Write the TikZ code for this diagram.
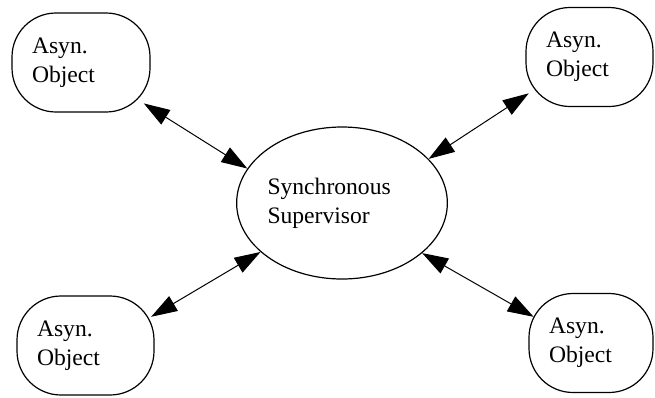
\documentclass[tikz,border=0pt]{standalone}
\usepackage{fontspec}
\setmainfont{Liberation Serif}
\usetikzlibrary{arrows.meta,shapes.geometric}

\begin{document}
\begin{tikzpicture}[x=1pt, y=-1pt, line width=1.2pt,
  font=\fontsize{23.6}{29}\selectfont,
  asyn/.style={draw, rounded corners=44pt, align=left, inner xsep=20pt,
    minimum height=99pt, text width=#1},
  super/.style={draw, ellipse, align=left, inner sep=0pt, text width=149pt,
    minimum height=152pt},
  link/.style={{Triangle[length=26pt,width=17pt]}-{Triangle[length=26pt,width=17pt]},
    line width=1pt, shorten <=#1},
  link/.default=0pt]
  \useasboundingbox (0,0) rectangle (655,397);

  \node[super] (sup) at (342,203) {Synchronous\\Supervisor};

  % the four objects
  \node[asyn=98pt] (tl) at (81,62.5) {Asyn.\\Object};
  \node[asyn=87pt] (tr) at (589.5,57) {Asyn.\\Object};
  \node[asyn=97pt] (bl) at (85.5,345.5) {Asyn.\\Object};
  \node[asyn=84pt] (br) at (591,343) {Asyn.\\Object};

  % links to the supervisor (tips reach into the round corners)
  \draw[link=-8pt] (tl.-33) -- (sup.160);
  \draw[link=-4pt] (tr.211) -- (sup.27);
  \draw[link=-4pt] (bl.24) -- (sup.211);
  \draw[link=-6pt] (br.155) -- (sup.-32);
\end{tikzpicture}
\end{document}
